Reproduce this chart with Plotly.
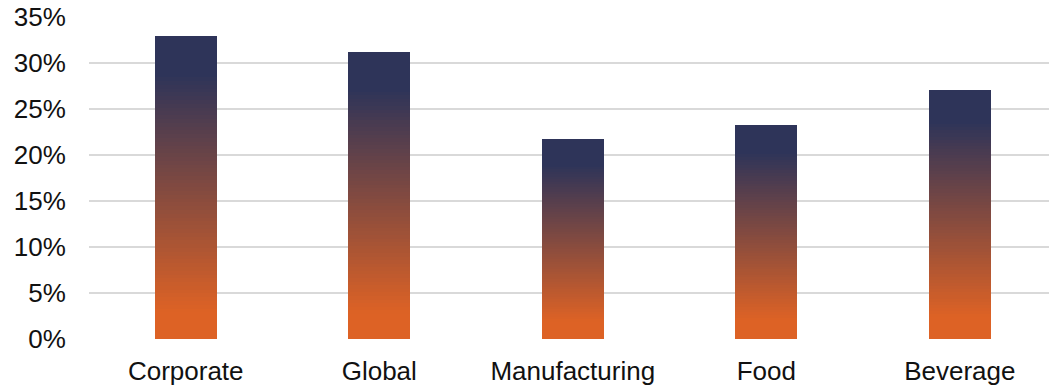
import plotly.graph_objects as go

# Share of total by business segment
categories = ["Corporate", "Global", "Manufacturing", "Food", "Beverage"]
values = [33.0, 31.2, 21.7, 23.3, 27.1]  # percent
y_ticks = [0, 5, 10, 15, 20, 25, 30, 35]
y_tick_labels = ["0%", "5%", "10%", "15%", "20%", "25%", "30%", "35%"]

# Vertical gradient for each bar: orange at the base, navy at the top
BOTTOM = (221, 98, 37)
TOP = (46, 52, 89)
SOLID_BOTTOM = 0.09   # fraction of bar height kept fully orange
SOLID_TOP = 0.87      # above this fraction the bar is fully navy
N_SLICES = 80


def gradient_color(t):
    if t <= SOLID_BOTTOM:
        f = 0.0
    elif t >= SOLID_TOP:
        f = 1.0
    else:
        f = (t - SOLID_BOTTOM) / (SOLID_TOP - SOLID_BOTTOM)
    r, g, b = (round(BOTTOM[i] + (TOP[i] - BOTTOM[i]) * f) for i in range(3))
    return f"rgb({r},{g},{b})"


fig = go.Figure()
# Each bar is built from equal stacked slices of its own value, coloured
# bottom-to-top so the gradient spans every bar's full height.
for k in range(N_SLICES):
    t = (k + 0.5) / N_SLICES
    fig.add_trace(
        go.Bar(
            x=categories,
            y=[v / N_SLICES for v in values],
            marker=dict(color=gradient_color(t), line=dict(width=0)),
            width=0.32,
            showlegend=False,
            hoverinfo="skip",
        )
    )

font_family = "Liberation Sans, Arial, sans-serif"

fig.update_layout(
    width=1049,
    height=385,
    barmode="stack",
    paper_bgcolor="white",
    plot_bgcolor="white",
    margin=dict(l=89, r=0, t=17, b=46),
    font=dict(family=font_family, size=26, color="#111111"),
    xaxis=dict(
        range=[-0.5, 4.461],
        automargin=False,
        showgrid=False,
        showline=False,
        zeroline=False,
        ticks="outside",
        ticklen=9,
        tickcolor="rgba(0,0,0,0)",
        tickfont=dict(size=26),
    ),
    yaxis=dict(
        range=[0, 35.02],
        automargin=False,
        tickvals=y_ticks,
        ticktext=y_tick_labels,
        showgrid=True,
        gridcolor="#D9D9D9",
        gridwidth=1.5,
        zeroline=False,
        showline=False,
        ticks="outside",
        ticklen=17,
        tickcolor="rgba(0,0,0,0)",
        tickfont=dict(size=26),
    ),
)

fig.write_html("out.html")
